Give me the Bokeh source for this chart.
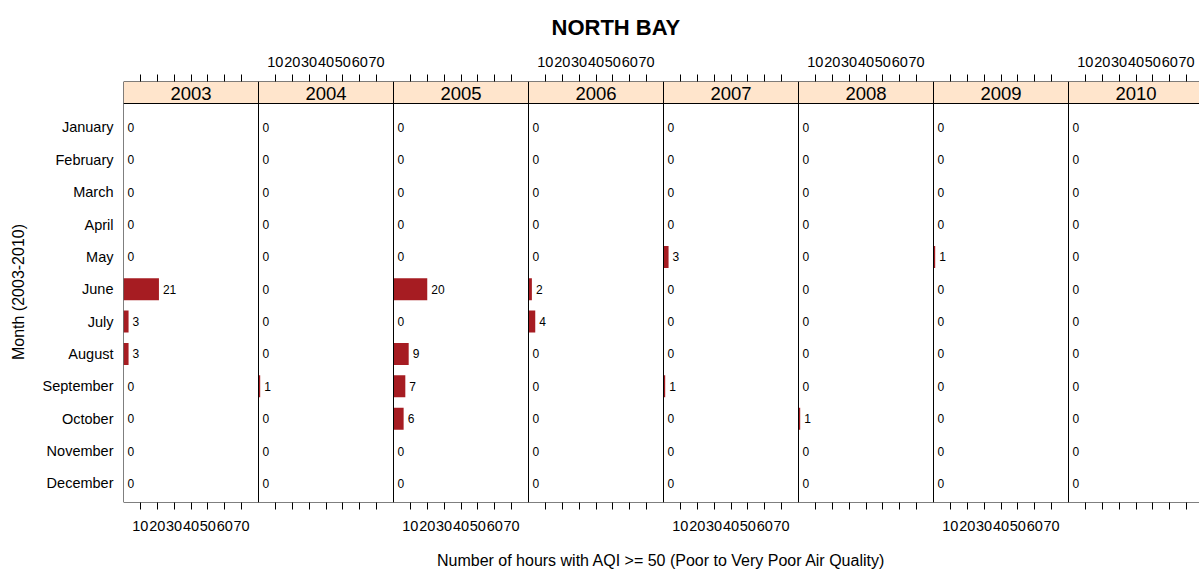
from bokeh.plotting import figure
from bokeh.models import Range1d, FixedTicker, LinearAxis, Span, ColumnDataSource
from bokeh.core.properties import value
from bokeh.embed import file_html
from bokeh.resources import INLINE

# ---------------- data ----------------
months = ["January", "February", "March", "April", "May", "June", "July",
          "August", "September", "October", "November", "December"]
years = ["2003", "2004", "2005", "2006", "2007", "2008", "2009", "2010"]
hours_2003 = [0, 0, 0, 0, 0, 21, 3, 3, 0, 0, 0, 0]
hours_2004 = [0, 0, 0, 0, 0, 0, 0, 0, 1, 0, 0, 0]
hours_2005 = [0, 0, 0, 0, 0, 20, 0, 9, 7, 6, 0, 0]
hours_2006 = [0, 0, 0, 0, 0, 2, 4, 0, 0, 0, 0, 0]
hours_2007 = [0, 0, 0, 0, 3, 0, 0, 0, 1, 0, 0, 0]
hours_2008 = [0, 0, 0, 0, 0, 0, 0, 0, 0, 1, 0, 0]
hours_2009 = [0, 0, 0, 0, 1, 0, 0, 0, 0, 0, 0, 0]
hours_2010 = [0, 0, 0, 0, 0, 0, 0, 0, 0, 0, 0, 0]
series = [hours_2003, hours_2004, hours_2005, hours_2006,
          hours_2007, hours_2008, hours_2009, hours_2010]
tick_values = [10, 20, 30, 40, 50, 60, 70]
tick_labels = ["10", "20", "30", "40", "50", "60", "70"]

# ---------------- layout constants ----------------
FONT = "Liberation Sans"
PANEL = 80                     # x-units per panel
PANEL_PX = 135
FRAME_W = 1076
STRIP_TOP = -0.42
STRIP_BOT = 0.26
Y_BOTTOM = 12.59
BAR_COLOR = "#a61c22"
STRIP_COLOR = "#ffe5cc"

p = figure(width=1199, height=574, output_backend="svg", toolbar_location=None,
           x_range=Range1d(0, FRAME_W / PANEL_PX * PANEL),
           y_range=Range1d(Y_BOTTOM, STRIP_TOP),
           min_border_left=123, min_border_right=0,
           min_border_top=81, min_border_bottom=72)
p.outline_line_color = None
p.xgrid.visible = False
p.ygrid.visible = False
p.background_fill_color = "white"

# title
p.title.text = "NORTH BAY"
p.title.text_font = FONT
p.title.text_font_size = "22px"
p.title.text_font_style = "bold"
p.title.text_color = "black"
p.title.align = "left"
p.title.offset = 428
p.title.vertical_align = "top"
p.title.standoff = 24

# ---------------- bars and labels ----------------
bx0, bx1, by, lx, ltxt = [], [], [], [], []
for i, vals in enumerate(series):
    for m, v in enumerate(vals):
        bx0.append(i * PANEL)
        bx1.append(i * PANEL + v)
        by.append(m + 1)
        lx.append(i * PANEL + v)
        ltxt.append(str(v))
src = ColumnDataSource(dict(left=bx0, right=bx1, y=by, lx=lx, txt=ltxt))
p.hbar(y="y", left="left", right="right", height=0.68, source=src,
       fill_color=BAR_COLOR, line_color=None)
p.text(x="lx", y="y", text="txt", source=src, x_offset=4,
       text_font=value(FONT), text_font_size="12px", text_color="black",
       text_align="left", text_baseline="middle")

# ---------------- strips ----------------
sx0 = [i * PANEL for i in range(len(years))]
sx1 = [(i + 1) * PANEL for i in range(len(years))]
sxc = [(i + 0.5) * PANEL for i in range(len(years))]
ssrc = ColumnDataSource(dict(left=sx0, right=sx1, xc=sxc, yr=years))
p.quad(left="left", right="right", top=STRIP_TOP, bottom=STRIP_BOT, source=ssrc,
       fill_color=STRIP_COLOR, line_color=None)
p.text(x="xc", y=(STRIP_TOP + STRIP_BOT) / 2, text="yr", source=ssrc, y_offset=1,
       text_font=value(FONT), text_font_size="18.5px", text_color="black",
       text_align="center", text_baseline="middle")

# ---------------- panel borders ----------------
for i in range(len(years)):
    p.add_layout(Span(location=i * PANEL, dimension="height",
                      line_color="black", line_width=1))
for loc in (STRIP_TOP, STRIP_BOT, Y_BOTTOM):
    p.add_layout(Span(location=loc, dimension="width",
                      line_color="black", line_width=1))

# ---------------- axes ----------------
def ticks_for(panels_labelled):
    ticks, overrides = [], {}
    for i in range(len(years)):
        for t, lab in zip(tick_values, tick_labels):
            pos = i * PANEL + t
            ticks.append(pos)
            overrides[pos] = lab if i in panels_labelled else ""
    return ticks, overrides

def style_x(ax):
    ax.axis_line_color = None
    ax.major_tick_out = 7
    ax.major_tick_in = 0
    ax.major_tick_line_color = "black"
    ax.minor_tick_line_color = None
    ax.major_label_text_font = FONT
    ax.major_label_text_font_size = "14.5px"
    ax.major_label_text_color = "black"

bt, bo = ticks_for({0, 2, 4, 6})
xb = p.xaxis[0]
xb.ticker = FixedTicker(ticks=bt)
xb.major_label_overrides = bo
style_x(xb)
xb.major_label_standoff = 11
xb.axis_label = "Number of hours with AQI >= 50 (Poor to Very Poor Air Quality)"
xb.axis_label_text_font = FONT
xb.axis_label_text_font_size = "16px"
xb.axis_label_text_font_style = "normal"
xb.axis_label_text_color = "black"
xb.axis_label_standoff = 18

tt, to = ticks_for({1, 3, 5, 7})
xt = LinearAxis(ticker=FixedTicker(ticks=tt), major_label_overrides=to)
style_x(xt)
xt.major_label_standoff = 8
p.add_layout(xt, "above")

ya = p.yaxis[0]
ya.ticker = FixedTicker(ticks=list(range(1, 13)))
ya.major_label_overrides = {m + 1: name for m, name in enumerate(months)}
ya.axis_line_color = None
ya.major_tick_out = 0
ya.major_tick_in = 0
ya.minor_tick_line_color = None
ya.major_label_standoff = 10
ya.major_label_text_font = FONT
ya.major_label_text_font_size = "14.5px"
ya.major_label_text_color = "black"
ya.axis_label = "Month (2003-2010)"
ya.axis_label_text_font = FONT
ya.axis_label_text_font_size = "16px"
ya.axis_label_text_font_style = "normal"
ya.axis_label_text_color = "black"
ya.axis_label_standoff = 13

open("out.html", "w").write(file_html(p, INLINE))
